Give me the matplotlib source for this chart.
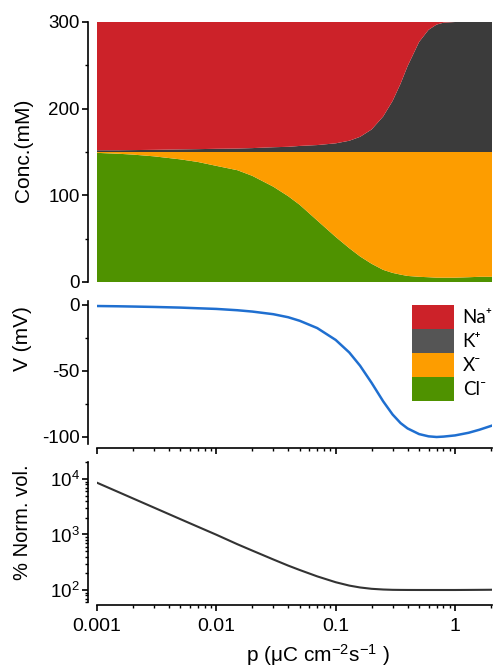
import numpy as np
import matplotlib
matplotlib.use('Agg')
import matplotlib.pyplot as plt
from matplotlib import ticker
from matplotlib.patches import Patch
from matplotlib.font_manager import FontProperties

plt.rcParams['font.family'] = ['Liberation Sans', 'DejaVu Sans']
plt.rcParams['mathtext.fontset'] = 'custom'
plt.rcParams['mathtext.rm'] = 'Liberation Sans'
plt.rcParams['mathtext.it'] = 'Liberation Sans:italic'
plt.rcParams['mathtext.default'] = 'regular'
plt.rcParams['axes.unicode_minus'] = False

# p (uC cm-2 s-1)
p = [0.001, 0.0015, 0.002, 0.003, 0.005, 0.007, 0.01, 0.015, 0.02, 0.03,
     0.04, 0.05, 0.07, 0.1, 0.13, 0.16, 0.2, 0.25, 0.3, 0.35,
     0.4, 0.5, 0.6, 0.7, 0.8, 1.0, 1.3, 1.6, 2.05]

# концентрации (mM), снизу вверх
cl = [149, 148, 147, 145, 141.5, 138.5, 134, 129, 122.5, 110,
      99, 89, 71, 52, 39, 29.5, 21, 14, 10.5, 8.5,
      7, 6, 5.5, 5, 5, 5, 5.5, 6, 6]
x_ion = [1, 2, 3, 5, 8.5, 11.5, 16, 21, 27.5, 40,
         51, 61, 79, 98, 111, 120.5, 129, 136, 139.5, 141.5,
         143, 144, 144.5, 145, 145, 145, 144.5, 144, 144]
k = [2, 2, 2.2, 2.5, 3, 3.3, 3.7, 4, 4.5, 5.5,
     6, 7, 8, 10, 13, 17.5, 26, 41, 59, 79,
     99, 127, 141, 147, 149.2, 150, 150, 150, 150]
na = [148, 148, 147.8, 147.5, 147, 146.7, 146.3, 146, 145.5, 144.5,
      144, 143, 142, 140, 137, 132.5, 124, 109, 91, 71,
      51, 23, 9, 3, 0.8, 0, 0, 0, 0]

# мембранный потенциал (mV)
v = [-0.8, -1.0, -1.2, -1.5, -2.0, -2.5, -3.0, -4.0, -5.0, -7.0,
     -9.3, -12, -17.5, -26.5, -36, -46, -59, -73, -83, -89.5,
     -93.5, -97.8, -99.5, -100, -99.7, -98.8, -96.8, -94.5, -91.3]

# нормированный объём (%)
vol = [8570, 5860, 4470, 3055, 1890, 1380, 990, 668, 513, 355,
       275, 229, 176, 138, 120, 111, 105, 102, 100.7, 100.3,
       100.1, 100, 100, 100, 100, 100, 100.3, 100.6, 101]

ion_labels = ['Na⁺', 'K⁺', 'X⁻', 'Cl⁻']
ion_colors = ['#cc2229', '#3b3b3b', '#fd9d00', '#4f9200']
legend_colors = ['#cc2229', '#555555', '#fd9d00', '#4f9200']

W, H = 493, 671
fig = plt.figure(figsize=(W / 100, H / 100), dpi=100)

def px_axes(top, bottom):
    return fig.add_axes([97 / W, 1 - bottom / H, 395 / W, (bottom - top) / H])

ax1 = px_axes(22, 282)
ax2 = px_axes(301, 443.6)
ax3 = px_axes(462.3, 602.3)

tick_kw = dict(direction='out', width=1.2, colors='black', labelsize=13.5)

for ax in (ax1, ax2, ax3):
    ax.set_xscale('log')
    ax.set_xlim(0.001, 2.04)
    ax.spines['top'].set_visible(False)
    ax.spines['right'].set_visible(False)
    ax.spines['left'].set_position(('outward', 6.5))
    ax.spines['left'].set_linewidth(1.2)
    ax.spines['bottom'].set_linewidth(1.2)
    ax.tick_params(axis='both', which='major', length=4, pad=2, **tick_kw)
    ax.tick_params(axis='both', which='minor', length=2.5, width=1.0, direction='out')
    ax.patch.set_visible(False)

# верхняя панель: концентрации
ax1.stackplot(p, cl, x_ion, k, na, colors=[ion_colors[3], ion_colors[2], ion_colors[1], ion_colors[0]],
              linewidth=0)
ax1.set_ylim(0, 300)
ax1.spines['bottom'].set_visible(False)
ax1.tick_params(axis='x', which='both', bottom=False, labelbottom=False)
ax1.yaxis.set_major_locator(ticker.MultipleLocator(100))
ax1.yaxis.set_minor_locator(ticker.MultipleLocator(50))

# средняя панель: V
ax2.plot(p, v, color='#1f6fd0', linewidth=1.8)
ax2.set_ylim(-105, 3)
ax2.spines['bottom'].set_position(('outward', 3.5))
ax2.tick_params(axis='x', which='both', labelbottom=False)
ax2.yaxis.set_major_locator(ticker.MultipleLocator(50))
ax2.yaxis.set_minor_locator(ticker.MultipleLocator(25))

handles = [Patch(facecolor=c, edgecolor='none', label=l) for c, l in zip(legend_colors, ion_labels)]
leg_font = FontProperties(family=['Lato', 'DejaVu Sans'], size=13.5)
ax2.legend(handles=handles, loc='upper left', bbox_to_anchor=(412 / W, 1 - 305 / H),
           bbox_transform=fig.transFigure, frameon=False, prop=leg_font,
           handlelength=2.25, handleheight=1.6, handletextpad=0.45,
           labelspacing=0, borderpad=0, borderaxespad=0)

# нижняя панель: объём
ax3.plot(p, vol, color='#333333', linewidth=1.5)
ax3.set_yscale('log')
ax3.set_ylim(60, 20000)
ax3.spines['bottom'].set_position(('outward', 2.2))
ax3.tick_params(axis='x', which='major', labelsize=14, pad=5)
ax3.xaxis.set_major_locator(ticker.FixedLocator([0.001, 0.01, 0.1, 1]))
ax3.xaxis.set_major_formatter(ticker.FuncFormatter(lambda val, pos: f'{val:g}'))

for ax in (ax2, ax3):
    ax.xaxis.set_minor_locator(ticker.LogLocator(base=10, subs=np.arange(2, 10), numticks=20))
    ax.xaxis.set_minor_formatter(ticker.NullFormatter())

fig.text(23 / W, 1 - 150 / H, 'Conc.(mM)', rotation=90, ha='center', va='center', fontsize=15)
fig.text(23 / W, 1 - 339 / H, 'V (mV)', rotation=90, ha='center', va='center', fontsize=15)
fig.text(23 / W, 1 - 522 / H, '% Norm. vol.', rotation=90, ha='center', va='center', fontsize=14.5)
fig.text(318 / W, 1 - 655 / H, r'p ($\mu$C cm$^{-2}$s$^{-1}$ )', ha='center', va='center', fontsize=15)

fig.savefig('out.png', dpi=100)
